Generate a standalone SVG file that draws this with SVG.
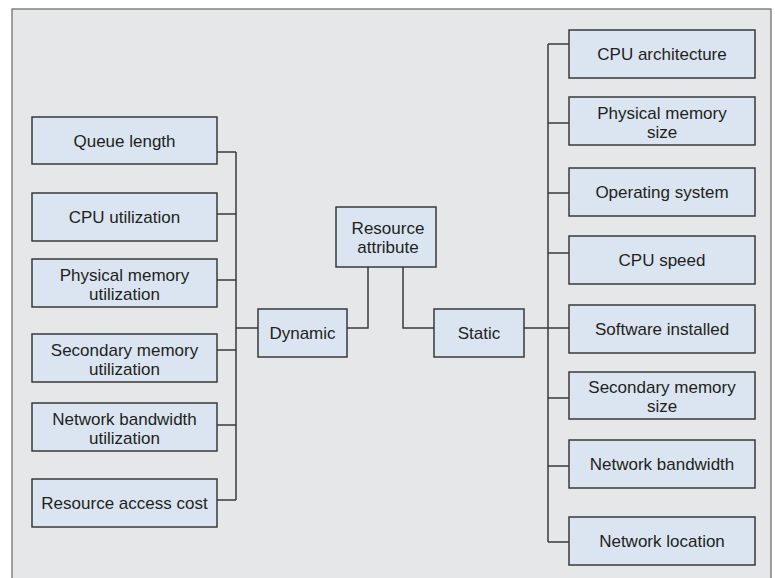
<svg xmlns="http://www.w3.org/2000/svg" width="775" height="578" viewBox="0 0 775 578">
<style>
.box{fill:#dbe5f1;stroke:#3a3a3a;stroke-width:1.5}
.t{font-family:"Liberation Sans",Arial,sans-serif;font-size:17px;fill:#231f20;text-anchor:middle}
.c{fill:none;stroke:#3a3a3a;stroke-width:1.5}
</style>
<rect x="0" y="0" width="775" height="578" fill="#ffffff"/>
<rect x="12" y="9" width="759" height="575" fill="#e6e7e8" stroke="#666" stroke-width="1.2"/>
<g id="connectors">
<path class="c" d="M217 152H236M217 214H236M217 280H236M217 350H236M217 425H236M217 500H236M236 152V500M236 328H258"/>
<path class="c" d="M347 328H368V267M403 267V328H434"/>
<path class="c" d="M524 328H548M548 44V542M548 44H569M548 123H569M548 193H569M548 253H569M548 328H569M548 398H569M548 466H569M548 542H569"/>
</g>
<g id="queue-length"><rect class="box" x="32" y="117" width="185" height="47"/><text class="t" x="124.5" y="146.5">Queue length</text></g>
<g id="cpu-utilization"><rect class="box" x="32" y="193" width="185" height="48"/><text class="t" x="124.5" y="223">CPU utilization</text></g>
<g id="physical-memory-utilization"><rect class="box" x="32" y="259" width="185" height="48"/><text class="t" x="124.5" y="280.5">Physical memory<tspan x="124.5" dy="19">utilization</tspan></text></g>
<g id="secondary-memory-utilization"><rect class="box" x="32" y="334" width="185" height="48"/><text class="t" x="124.5" y="355.5">Secondary memory<tspan x="124.5" dy="19">utilization</tspan></text></g>
<g id="network-bandwidth-utilization"><rect class="box" x="32" y="403" width="185" height="48"/><text class="t" x="124.5" y="424.5">Network bandwidth<tspan x="124.5" dy="19">utilization</tspan></text></g>
<g id="resource-access-cost"><rect class="box" x="32" y="479" width="185" height="48"/><text class="t" x="124.5" y="509">Resource access cost</text></g>
<g id="dynamic"><rect class="box" x="258" y="309" width="89" height="48"/><text class="t" x="302.5" y="339">Dynamic</text></g>
<g id="resource-attribute"><rect class="box" x="336" y="207" width="100" height="60"/><text class="t" x="388" y="233.5">Resource<tspan x="388" dy="19">attribute</tspan></text></g>
<g id="static"><rect class="box" x="434" y="309" width="90" height="48"/><text class="t" x="479" y="339">Static</text></g>
<g id="cpu-architecture"><rect class="box" x="569" y="30" width="186" height="48"/><text class="t" x="662" y="60">CPU architecture</text></g>
<g id="physical-memory-size"><rect class="box" x="569" y="97" width="186" height="48"/><text class="t" x="662" y="118.5">Physical memory<tspan x="662" dy="19">size</tspan></text></g>
<g id="operating-system"><rect class="box" x="569" y="168" width="186" height="48"/><text class="t" x="662" y="198">Operating system</text></g>
<g id="cpu-speed"><rect class="box" x="569" y="236" width="186" height="48"/><text class="t" x="662" y="266">CPU speed</text></g>
<g id="software-installed"><rect class="box" x="569" y="305" width="186" height="48"/><text class="t" x="662" y="335">Software installed</text></g>
<g id="secondary-memory-size"><rect class="box" x="569" y="372" width="186" height="47"/><text class="t" x="662" y="392.5">Secondary memory<tspan x="662" dy="19">size</tspan></text></g>
<g id="network-bandwidth"><rect class="box" x="569" y="440" width="186" height="48"/><text class="t" x="662" y="470">Network bandwidth</text></g>
<g id="network-location"><rect class="box" x="569" y="517" width="186" height="48"/><text class="t" x="662" y="547">Network location</text></g>
</svg>
